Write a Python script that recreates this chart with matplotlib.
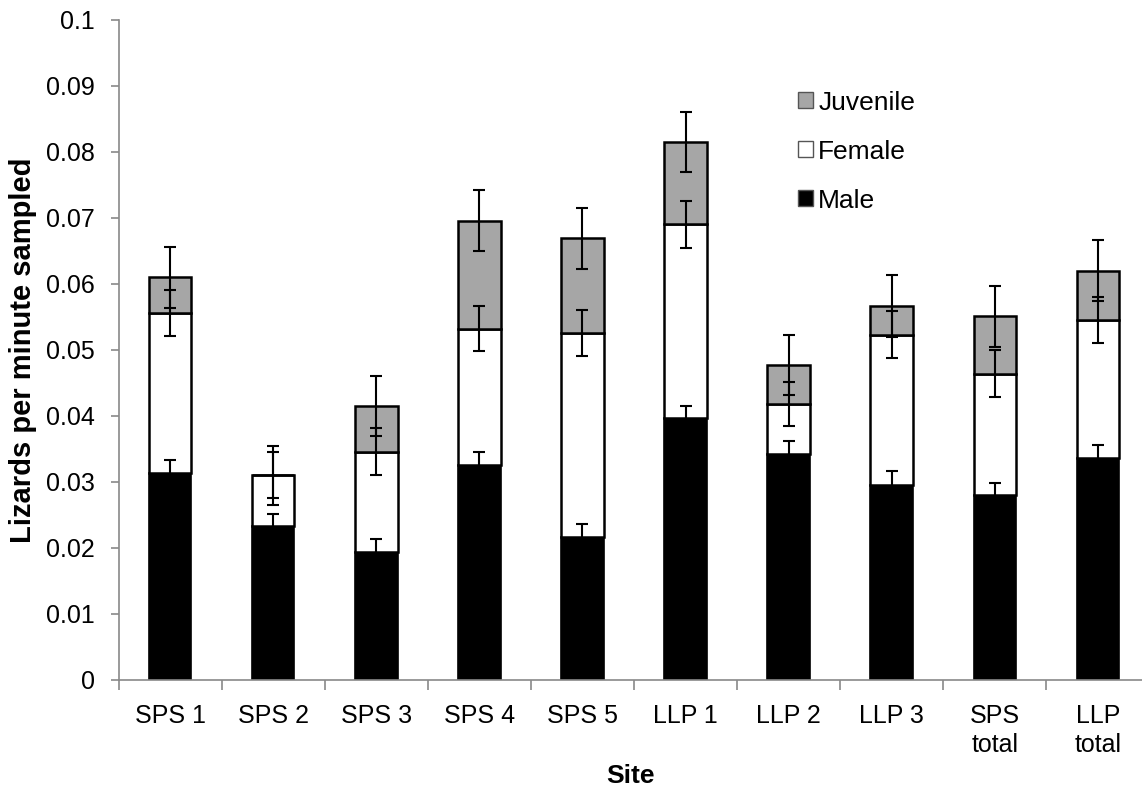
import matplotlib
matplotlib.use('Agg')
import matplotlib.pyplot as plt
from matplotlib.patches import Patch
from matplotlib.ticker import FixedLocator, FuncFormatter
import numpy as np

plt.rcParams['font.family'] = ['Liberation Sans', 'DejaVu Sans']

sites = ['SPS 1', 'SPS 2', 'SPS 3', 'SPS 4', 'SPS 5', 'LLP 1', 'LLP 2', 'LLP 3',
         'SPS\ntotal', 'LLP\ntotal']
male = [0.0313, 0.0233, 0.0194, 0.0325, 0.0216, 0.0397, 0.0342, 0.0296, 0.0280, 0.0336]
female = [0.0243, 0.0077, 0.0152, 0.0207, 0.0310, 0.0293, 0.0076, 0.0227, 0.0184, 0.0209]
juvenile = [0.0054, 0.0, 0.0069, 0.0164, 0.0143, 0.0125, 0.0059, 0.0044, 0.0087, 0.0075]
male_err = [0.0020, 0.0019, 0.0019, 0.0020, 0.0020, 0.0018, 0.0020, 0.0020, 0.0019, 0.0020]
female_err = [0.0035, 0.0035, 0.0035, 0.0034, 0.0035, 0.0035, 0.0034, 0.0036, 0.0036, 0.0035]
juv_err = [0.0046, 0.0045, 0.0046, 0.0046, 0.0046, 0.0046, 0.0045, 0.0047, 0.0046, 0.0046]

m = np.array(male)
f_ = np.array(female)
j = np.array(juvenile)
x = np.arange(len(sites))

fig = plt.figure(figsize=(11.42, 7.94), dpi=100)
ax = fig.add_axes([0.104, 0.1436, 0.896, 0.8314])

w = 0.41
ax.bar(x, m, w, color='black', edgecolor='black', linewidth=1.2, zorder=2)
ax.bar(x, f_, w, bottom=m, color='white', edgecolor='black', linewidth=1.8, zorder=2)
ax.bar(x, j, w, bottom=m + f_, color='#a6a6a6', edgecolor='black', linewidth=1.8, zorder=2)

ekw = dict(fmt='none', ecolor='black', elinewidth=1.5, capsize=4, capthick=1.5, zorder=3)
ax.errorbar(x, m, yerr=male_err, **ekw)
ax.errorbar(x, m + f_, yerr=female_err, **ekw)
ax.errorbar(x, m + f_ + j, yerr=juv_err, **ekw)

ax.set_ylim(0, 0.1)
ax.set_xlim(-0.5, 9.43)
ax.set_yticks(np.arange(0, 0.1001, 0.01))
ax.yaxis.set_major_formatter(FuncFormatter(lambda v, p: f'{round(v, 3):g}'))
ax.set_xticks(x)
ax.set_xticklabels(sites, linespacing=1.3)
ax.xaxis.set_minor_locator(FixedLocator(np.arange(-0.5, 9.6, 1)))
ax.tick_params(axis='x', which='major', length=0, pad=17, labelsize=18)
ax.tick_params(axis='x', which='minor', length=7, color='#898989', width=1.2, direction='out')
ax.tick_params(axis='y', length=6, color='#898989', width=1.2, direction='out', labelsize=18, pad=11)

for s in ['top', 'right']:
    ax.spines[s].set_visible(False)
for s in ['left', 'bottom']:
    ax.spines[s].set_color('#898989')
    ax.spines[s].set_linewidth(1.2)

ax.set_xlabel('Site', fontsize=19, fontweight='bold', labelpad=5)
ax.set_ylabel('Lizards per minute sampled', fontsize=21, fontweight='bold', labelpad=7)

handles = [Patch(facecolor='#a6a6a6', edgecolor='#555555', label='Juvenile'),
           Patch(facecolor='white', edgecolor='#555555', label='Female'),
           Patch(facecolor='black', edgecolor='#555555', label='Male')]
ax.legend(handles=handles, loc='upper left', bbox_to_anchor=(0.699, 0.886),
          bbox_transform=fig.transFigure, frameon=False, borderpad=0, borderaxespad=0,
          fontsize=19, handlelength=0.56, handleheight=0.56, handletextpad=0.2,
          labelspacing=0.95)

fig.savefig('out.png', dpi=100)
